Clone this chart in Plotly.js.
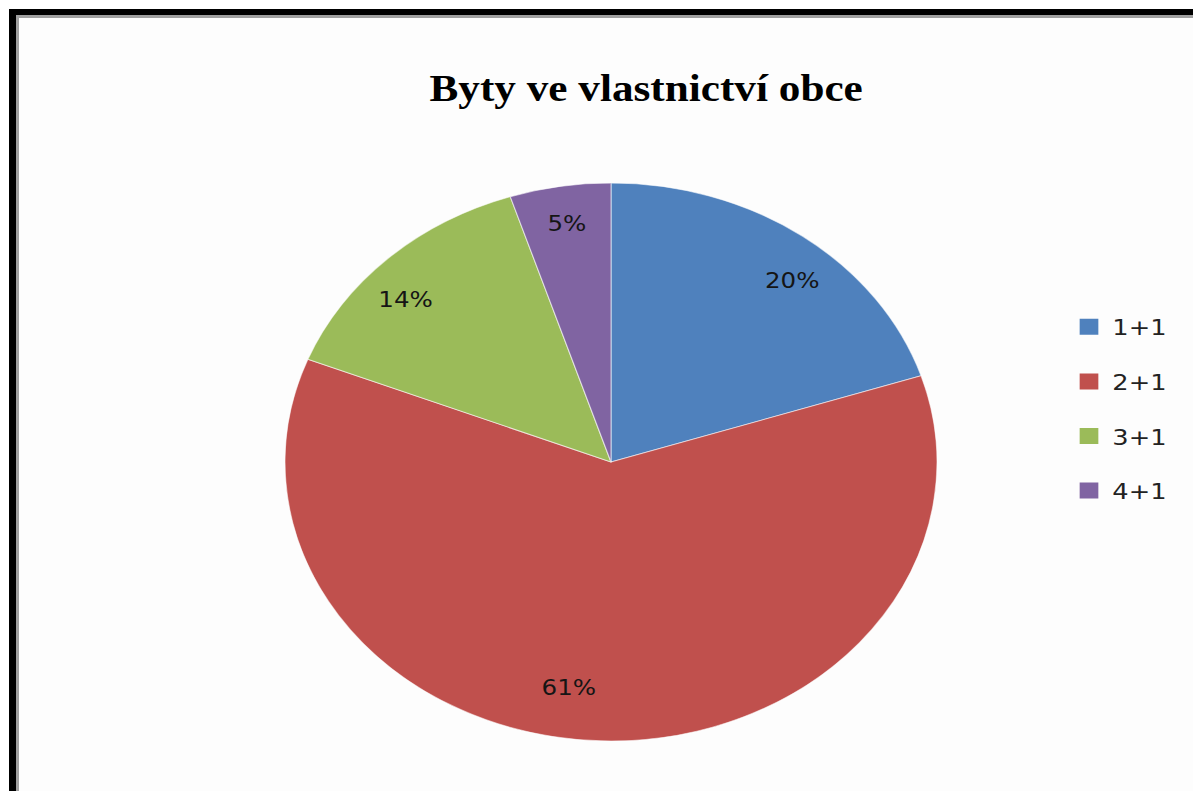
<!DOCTYPE html>
<html>
<head>
<meta charset="utf-8">
<script src="https://cdn.plot.ly/plotly-3.0.1.min.js"></script>
<style>
  html, body { margin: 0; padding: 0; background: #ffffff; overflow: hidden; }
  #wrap { position: relative; width: 1193px; height: 791px; overflow: hidden; background: #fdfdfd; }
  #chart { position: absolute; left: 0; top: 0; transform-origin: 0 0; }
  #frame { position: absolute; left: 9px; top: 9px; right: 0; bottom: -10px;
           border-top: 6px solid #000; border-left: 7px solid #000; pointer-events: none; }
  #frame2 { position: absolute; left: 16px; top: 15px; right: 0; bottom: -10px;
            border-top: 3px solid #a0a0a0; border-left: 3px solid #a0a0a0; pointer-events: none; }
  #outer { position: absolute; left: 0; top: 0; width: 9px; height: 791px; background: #fff; }
  #outerTop { position: absolute; left: 0; top: 0; width: 1193px; height: 9px; background: #fff; }
</style>
</head>
<body>
<div id="wrap">
  <div id="chart"></div>
  <div id="outer"></div>
  <div id="outerTop"></div>
  <div id="frame"></div>
  <div id="frame2"></div>
</div>
<script>
// Data
var chartTitle = "Byty ve vlastnictví obce";
var categories = ["1+1", "2+1", "3+1", "4+1"];
var shares = [20, 61, 14, 5];
var colors = ["#4F81BD", "#C0504D", "#9BBB59", "#8064A2"];

// Horizontal stretch of the original picture (pie drawn as an ellipse)
var stretch = 326 / 279;
var fullW = 1193, fullH = 791;
var W = fullW / stretch;
var cx = 611 / stretch, cy = 462, R = 279, rLab = 214;

var pctFmt = "%{percent:.0%}";
var labelFont = { family: "DejaVu Sans, sans-serif", size: 21, color: "#151515" };

var traces = [{
  // visible pie
  type: "pie",
  labels: categories,
  values: shares,
  sort: false,
  direction: "clockwise",
  rotation: 0,
  marker: { colors: colors, line: { color: "rgba(255,255,255,0.55)", width: 1 } },
  texttemplate: categories.map(function (c, i) { return i === 3 ? pctFmt : ""; }),
  textposition: "inside",
  insidetextorientation: "horizontal",
  textfont: labelFont,
  hoverinfo: "label+percent",
  showlegend: false,
  domain: { x: [(cx - R) / W, (cx + R) / W], y: [(fullH - cy - R) / fullH, (fullH - cy + R) / fullH] }
}, {
  // transparent inner pie used only to place the percentage labels
  type: "pie",
  labels: categories,
  values: shares,
  sort: false,
  direction: "clockwise",
  rotation: 0,
  marker: { colors: categories.map(function () { return "rgba(0,0,0,0)"; }), line: { width: 0 } },
  texttemplate: categories.map(function (c, i) { return i === 3 ? "" : pctFmt; }),
  textposition: "outside",
  textfont: labelFont,
  hoverinfo: "skip",
  showlegend: false,
  domain: { x: [(cx - rLab) / W, (cx + rLab) / W], y: [(fullH - cy - rLab) / fullH, (fullH - cy + rLab) / fullH] }
}];

// Legend entries (one per category, no drawn points)
categories.forEach(function (c, i) {
  traces.push({
    type: "scatter",
    mode: "markers",
    x: [null], y: [null],
    name: c,
    legendgroup: "g" + i,
    marker: { symbol: "square", size: 16, color: colors[i] },
    hoverinfo: "skip",
    showlegend: true
  });
});

var layout = {
  width: W,
  height: fullH,
  margin: { l: 0, r: 0, t: 0, b: 0 },
  paper_bgcolor: "#fdfdfd",
  plot_bgcolor: "rgba(0,0,0,0)",
  xaxis: { visible: false, domain: [0.95, 1] },
  yaxis: { visible: false, domain: [0.95, 1] },
  title: {
    text: "<b>" + chartTitle + "</b>",
    font: { family: "Liberation Serif, Times New Roman, serif", size: 37, color: "#000" },
    x: 553 / W, xanchor: "center", xref: "container",
    y: 1 - 88 / fullH, yanchor: "middle", yref: "container"
  },
  legend: {
    x: 912 / W, xanchor: "left",
    y: 1 - 306 / fullH, yanchor: "top",
    font: { family: "DejaVu Sans, sans-serif", size: 22, color: "#222" },
    tracegroupgap: 23,
    bgcolor: "rgba(0,0,0,0)"
  },
  showlegend: true
};

var el = document.getElementById("chart");
el.style.width = W + "px";
el.style.height = fullH + "px";
el.style.transform = "scaleX(" + stretch + ")";
Plotly.newPlot(el, traces, layout, { displayModeBar: false, staticPlot: true });
</script>
</body>
</html>
